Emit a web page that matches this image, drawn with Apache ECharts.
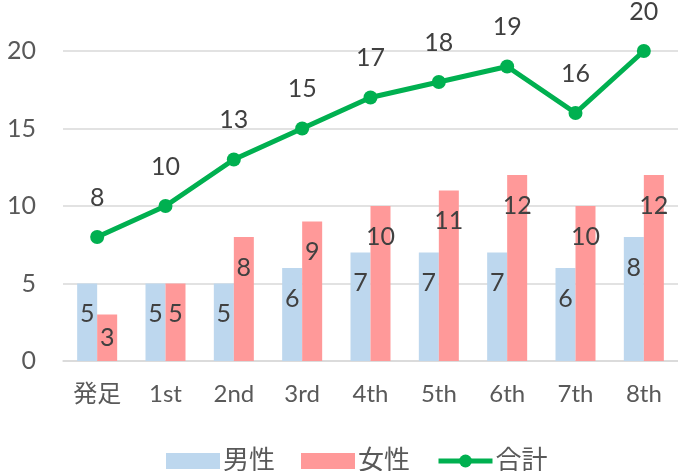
<!DOCTYPE html>
<html><head><meta charset="utf-8">
<script src="https://cdn.jsdelivr.net/npm/echarts@6/dist/echarts.min.js"></script>
<style>html,body{margin:0;padding:0;background:#fff}#c{width:678px;height:471px}</style>
</head><body><div id="c"></div>
<script>
const categories = ['発足','1st','2nd','3rd','4th','5th','6th','7th','8th'];
const male = [5,5,5,6,7,7,7,6,8];
const female = [3,5,8,9,10,11,12,10,12];
const total = [8,10,13,15,17,18,19,16,20];
const yTicks = [0,5,10,15,20];

const FONT = 'Lato, "Noto Sans CJK JP", sans-serif';
const labelColor = '#404040';
function barData(arr){
  return arr.map(v => v < 4
    ? {value: v, label: {position: 'inside'}}
    : v);
}
const chart = echarts.init(document.getElementById('c'));
chart.setOption({
  animation: false,
  textStyle: {fontFamily: FONT},
  grid: {left: 63, right: -3, top: 51, bottom: 110, containLabel: false},
  legend: {
    left: 161, top: 443,
    itemWidth: 54, itemHeight: 16, itemGap: 26,
    textStyle: {fontSize: 26, color: '#595959', fontFamily: FONT, padding: [0,0,0,-2]},
    data: [
      {name: '男性', icon: 'rect'},
      {name: '女性', icon: 'rect'},
      {name: '合計', lineStyle: {width: 5, color: '#00B050'}, itemStyle: {color: '#00B050'}}
    ]
  },
  xAxis: {
    type: 'category', data: categories,
    axisLine: {lineStyle: {color: '#D9D9D9', width: 1.5}},
    axisTick: {show: false},
    axisLabel: {fontSize: 24, color: '#595959', margin: 21, fontFamily: FONT}
  },
  yAxis: {
    type: 'value', min: yTicks[0], max: yTicks[yTicks.length-1], interval: 5,
    axisLine: {show: false}, axisTick: {show: false},
    axisLabel: {fontSize: 25, color: '#595959', margin: 27, fontFamily: FONT},
    splitLine: {lineStyle: {color: '#D9D9D9', width: 1.5}}
  },
  series: [
    {
      name: '男性', type: 'bar', data: barData(male), barWidth: 20, barGap: '0%',
      itemStyle: {color: '#BDD7EE'},
      label: {show: true, position: 'insideTop', distance: 18, fontSize: 25, color: labelColor, fontFamily: FONT}
    },
    {
      name: '女性', type: 'bar', data: barData(female), barWidth: 20,
      itemStyle: {color: '#FF9999'},
      label: {show: true, position: 'insideTop', distance: 18, fontSize: 25, color: labelColor, fontFamily: FONT}
    },
    {
      name: '合計', type: 'line', data: total,
      symbol: 'circle', symbolSize: 14,
      lineStyle: {color: '#00B050', width: 5},
      itemStyle: {color: '#00B050'},
      label: {show: true, position: 'top', distance: 20, fontSize: 25, color: labelColor, fontFamily: FONT}
    }
  ]
});
</script></body></html>
